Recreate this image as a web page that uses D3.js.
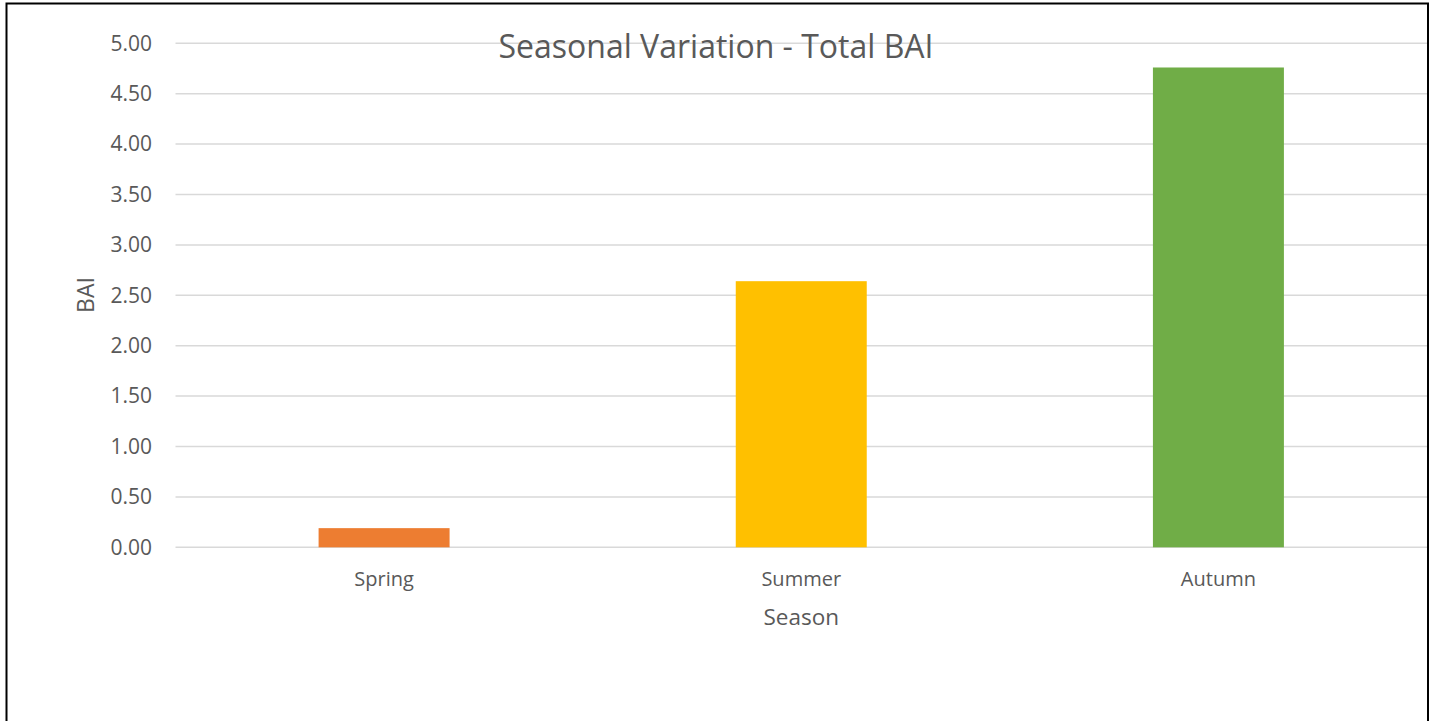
<!DOCTYPE html>
<html>
<head>
<meta charset="utf-8">
<script src="https://cdn.jsdelivr.net/npm/d3@7"></script>
<style>
  body { margin: 0; background: #fff; }
  text { font-family: "Open Sans", sans-serif; fill: #595959; }
</style>
</head>
<body>
<svg id="chart" width="1431" height="721"></svg>
<script>
// data
const seasons = ['Spring', 'Summer', 'Autumn'];
const baiValues = [0.19, 2.64, 4.76];
const barColors = ['#ED7D31', '#FFC000', '#70AD47'];
const yTicks = [0, 0.5, 1, 1.5, 2, 2.5, 3, 3.5, 4, 4.5, 5];

const svg = d3.select('#chart');

// outer frame (bottom edge runs off the picture)
svg.append('rect')
  .attr('x', 6.5).attr('y', 3.5)
  .attr('width', 1421.5).attr('height', 740)
  .attr('fill', 'none')
  .attr('stroke', '#000')
  .attr('stroke-width', 2);

const plot = { left: 175.5, right: 1427, top: 43.3, bottom: 547.3 };

const x = d3.scaleBand()
  .domain(seasons)
  .range([plot.left, plot.right])
  .paddingInner(0.686)
  .paddingOuter(0.343);

const y = d3.scaleLinear()
  .domain([0, 5])
  .range([plot.bottom, plot.top]);

// gridlines
svg.append('g')
  .selectAll('line')
  .data(yTicks)
  .enter().append('line')
  .attr('x1', plot.left)
  .attr('x2', plot.right)
  .attr('y1', d => y(d))
  .attr('y2', d => y(d))
  .attr('stroke', '#D9D9D9')
  .attr('stroke-width', 1.5);

// y tick labels
svg.append('g')
  .selectAll('text')
  .data(yTicks)
  .enter().append('text')
  .attr('x', 152)
  .attr('y', d => y(d))
  .attr('dy', '0.35em')
  .attr('text-anchor', 'end')
  .attr('font-size', 21)
  .text(d => d3.format('.2f')(d));

// bars
svg.append('g')
  .selectAll('rect')
  .data(seasons)
  .enter().append('rect')
  .attr('x', d => x(d))
  .attr('width', x.bandwidth())
  .attr('y', (d, i) => y(baiValues[i]))
  .attr('height', (d, i) => y(0) - y(baiValues[i]))
  .attr('fill', (d, i) => barColors[i]);

// category labels
svg.append('g')
  .selectAll('text')
  .data(seasons)
  .enter().append('text')
  .attr('x', d => x(d) + x.bandwidth() / 2)
  .attr('y', 586)
  .attr('text-anchor', 'middle')
  .attr('font-size', 20)
  .text(d => d);

// axis titles
svg.append('text')
  .attr('x', (plot.left + plot.right) / 2)
  .attr('y', 625)
  .attr('text-anchor', 'middle')
  .attr('font-size', 22.5)
  .text('Season');

svg.append('text')
  .attr('transform', 'translate(94, 295) rotate(-90)')
  .attr('text-anchor', 'middle')
  .attr('font-size', 23)
  .text('BAI');

// chart title
svg.append('text')
  .attr('x', 716)
  .attr('y', 58)
  .attr('text-anchor', 'middle')
  .attr('font-size', 32)
  .text('Seasonal Variation - Total BAI');
</script>
</body>
</html>
